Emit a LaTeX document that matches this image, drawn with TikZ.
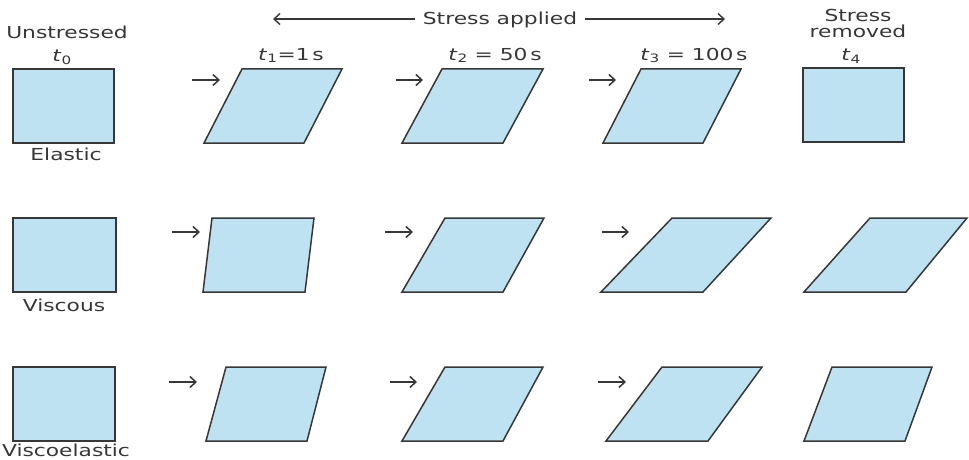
\documentclass[tikz,border=0pt]{standalone}
\usepackage{fontspec}
\setmainfont{DejaVu Sans}[FakeStretch=1.32]
\usetikzlibrary{arrows.meta}
\definecolor{slabfill}{RGB}{190,226,242}
\definecolor{ink}{RGB}{55,55,55}
\definecolor{txt}{RGB}{55,55,55}
\newcommand\slabpath[6]{\filldraw[slabstyle] (#3,#1) -- (#4,#1) -- (#5,#2) -- (#6,#2) -- cycle;}
\newcommand\tlab[1]{\textit{t}\textsubscript{#1}}
\begin{document}
\begin{tikzpicture}[x=1pt,y=-1pt,
  slabstyle/.style={fill=slabfill,draw=ink,line width=1.5pt,line join=miter},
  lab/.style={text=txt,font=\fontsize{16.5}{18}\selectfont,inner sep=0pt,anchor=base},
  push/.style={draw=ink,line width=1.5pt,-{Straight Barb[length=6pt,width=11pt]}},
  span/.style={draw=ink,line width=1.4pt}]
\useasboundingbox (0,0) rectangle (969,460);
\fill[white] (0,0) rectangle (969,460);

% header
\node[lab,inner xsep=8pt] (sa) at (500,25) {Stress applied};
\coordinate (saL) at (273,19);
\coordinate (saR) at (725,19);
\draw[span,{Straight Barb[length=6pt,width=11pt]}-] (saL) -- (saL -| sa.west);
\draw[span,-{Straight Barb[length=6pt,width=11pt]}] (saR -| sa.east) -- (saR);

\node[lab] (unst) at (67,39) {Unstressed};
\node[lab] (t0) at (62,62) {\tlab{0}};
\node[lab] (t1) at (291,60) {\tlab{1}=1\,s};
\node[lab] (t2) at (495,60) {\tlab{2} = 50\,s};
\node[lab] (t3) at (694,60) {\tlab{3} = 100\,s};
\node[lab] (srem1) at (858,22) {Stress};
\node[lab] (srem2) at (858,38) {removed};
\node[lab] (t4) at (851,61) {\tlab{4}};

\node[lab] (el) at (66,160) {Elastic};
\node[lab] (vi) at (64,311) {Viscous};
\node[lab] (ve) at (66,456) {Viscoelastic};

% row 1: elastic
\slabpath{69}{143}{13}{114}{114}{13}
\slabpath{69}{143}{242}{342}{304}{204}
\slabpath{69}{143}{442}{543}{503}{402}
\slabpath{69}{143}{641}{741}{703}{603}
\slabpath{68}{142}{803}{904}{904}{803}

% row 2: viscous
\slabpath{218}{292}{13}{116}{116}{13}
\slabpath{218}{292}{212}{314}{305}{203}
\slabpath{218}{292}{445}{544}{503}{402}
\slabpath{218}{292}{672}{771}{703}{601}
\slabpath{218}{292}{870}{967}{906}{804}

% row 3: viscoelastic
\slabpath{367}{441}{13}{115}{115}{13}
\slabpath{367}{441}{226}{326}{307}{206}
\slabpath{367}{441}{445}{543}{503}{402}
\slabpath{367}{441}{662}{762}{708}{606}
\slabpath{367}{441}{832}{932}{905}{804}

% stress arrows
\coordinate (a11) at (192,80); \coordinate (b11) at (220,80);
\coordinate (a12) at (396,80); \coordinate (b12) at (423,80);
\coordinate (a13) at (589,80); \coordinate (b13) at (616,80);
\coordinate (a21) at (172,232); \coordinate (b21) at (200,232);
\coordinate (a22) at (385,232); \coordinate (b22) at (413,232);
\coordinate (a23) at (602,232); \coordinate (b23) at (629,232);
\coordinate (a31) at (169,382); \coordinate (b31) at (197,382);
\coordinate (a32) at (390,382); \coordinate (b32) at (417,382);
\coordinate (a33) at (598,382); \coordinate (b33) at (626,382);
\foreach \r in {1,2,3}{\foreach \c in {1,2,3}{\draw[push] (a\r\c) -- (b\r\c);}}
\end{tikzpicture}
\end{document}
